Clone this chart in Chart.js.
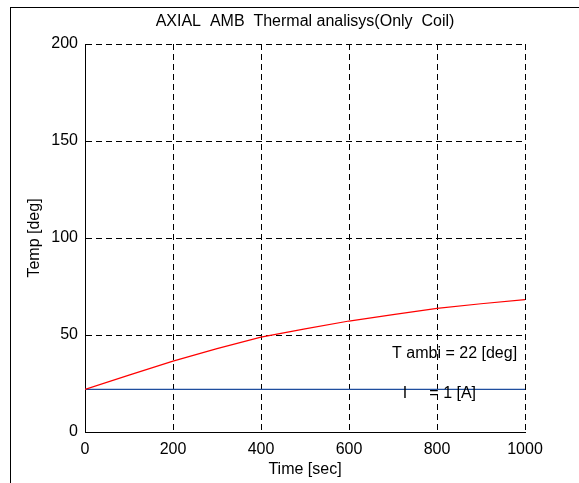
<!DOCTYPE html>
<html>
<head>
<meta charset="utf-8">
<script src="https://cdn.jsdelivr.net/npm/chart.js@4/dist/chart.umd.min.js"></script>
<style>
  html, body { margin: 0; padding: 0; background: #fff; }
  #wrap { position: relative; width: 579px; height: 483px; }
  #frame { position: absolute; left: 10px; top: 7px; right: 0; bottom: 0; border-top: 1px solid #000; border-left: 1px solid #000; pointer-events: none; }
  canvas { position: absolute; left: 0; top: 0; }
</style>
</head>
<body>
<div id="wrap">
  <canvas id="c" width="579" height="483"></canvas>
  <div id="frame"></div>
</div>
<script>
const chartTitle = 'AXIAL  AMB  Thermal analisys(Only  Coil)';
const xTitle = 'Time [sec]';
const yTitle = 'Temp [deg]';
const timeSec = [0, 100, 200, 300, 400, 500, 600, 700, 800, 900, 1000];
const coilTemp = [22, 29.3, 36.5, 43, 48.9, 53.2, 57.2, 60.5, 63.7, 66.1, 68.2];
const ambientTime = [0, 1000];
const ambientTemp = [22, 22];
const xTicks = [0, 200, 400, 600, 800, 1000];
const yTicks = [0, 50, 100, 150, 200];
const notes = [
  { text: 'T ambi = 22 [deg]', x: 698, y: 40.5 },
  { text: 'I     = 1 [A]', x: 722, y: 20 }
];

const FONT = "'Liberation Sans', Arial, sans-serif";

const textPlugin = {
  id: 'textPlugin',
  afterDraw(chart) {
    const { ctx, chartArea, scales } = chart;
    ctx.save();
    ctx.fillStyle = '#000';
    ctx.font = '16px ' + FONT;
    ctx.textAlign = 'center';
    ctx.textBaseline = 'middle';
    ctx.fillText(chartTitle, (chartArea.left + chartArea.right) / 2, 22);
    ctx.textAlign = 'left';
    notes.forEach(n => {
      ctx.fillText(n.text, scales.x.getPixelForValue(n.x), scales.y.getPixelForValue(n.y));
    });
    ctx.restore();
  }
};

new Chart(document.getElementById('c'), {
  type: 'line',
  data: {
    datasets: [
      {
        data: timeSec.map((t, i) => ({ x: t, y: coilTemp[i] })),
        borderColor: '#ff0000',
        borderWidth: 1.2,
        pointRadius: 0,
        tension: 0
      },
      {
        data: ambientTime.map((t, i) => ({ x: t, y: ambientTemp[i] })),
        borderColor: '#1f4e9e',
        borderWidth: 1.2,
        pointRadius: 0,
        tension: 0
      }
    ]
  },
  options: {
    responsive: false,
    animation: false,
    layout: { padding: { top: 44, right: 54, left: 0, bottom: 0 } },
    plugins: { legend: { display: false }, tooltip: { enabled: false }, title: { display: false } },
    scales: {
      x: {
        type: 'linear',
        min: 0, max: 1000,
        afterBuildTicks(s) { s.ticks = xTicks.map(v => ({ value: v })); },
        afterFit(s) { s.height = 51; },
        ticks: { color: '#000', font: { family: FONT, size: 16 }, padding: 8, maxRotation: 0, callback: v => String(v) },
        grid: { color: '#000', lineWidth: 1, drawTicks: false, tickLength: 0 },
        border: { display: true, color: '#000', width: 1, dash: [6, 4] },
        title: { display: true, text: xTitle, color: '#000', font: { family: FONT, size: 16 }, padding: { top: 0, bottom: 4 } }
      },
      y: {
        type: 'linear',
        min: 0, max: 200,
        afterBuildTicks(s) { s.ticks = yTicks.map(v => ({ value: v })); },
        afterFit(s) { s.width = 85; },
        ticks: { color: '#000', font: { family: FONT, size: 16 }, padding: 7, callback: v => String(v) },
        grid: { color: '#000', lineWidth: 1, drawTicks: false, tickLength: 0 },
        border: { display: true, color: '#000', width: 1, dash: [6, 4] },
        title: { display: true, text: yTitle, color: '#000', font: { family: FONT, size: 16 }, padding: { top: 25, bottom: 0 } }
      }
    }
  },
  plugins: [textPlugin]
});
</script>
</body>
</html>
